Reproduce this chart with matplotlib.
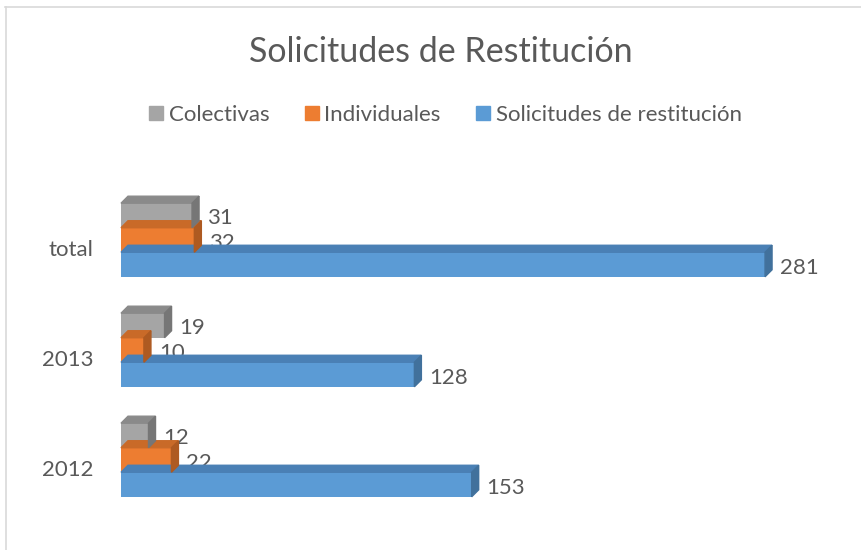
import matplotlib.pyplot as plt
import numpy as np
from matplotlib.patches import Polygon
from matplotlib.lines import Line2D
from matplotlib.transforms import ScaledTranslation

plt.rcParams['font.family'] = ['Lato', 'DejaVu Sans']

categories = ['2012', '2013', 'total']
colectivas = [12, 19, 31]
individuales = [22, 10, 32]
solicitudes = [153, 128, 281]

series_names = ['Colectivas', 'Individuales', 'Solicitudes de restitución']
front_colors = ['#A5A5A5', '#ED7D31', '#5B9BD5']
side_colors = ['#767676', '#AE5A21', '#41719C']
top_colors = ['#8A8A8A', '#C96A28', '#4A80B5']
text_color = '#595959'

W, H = 862, 550
fig = plt.figure(figsize=(W / 100, H / 100), dpi=100)

# axes placed so that x=0 sits at px 121 and groups are 110 px apart
ax = fig.add_axes([121 / W, 35 / H, 687.6 / W, 330 / H])
ax.set_xlim(0, 300)
ax.set_ylim(-0.5, 2.5)
for s in ax.spines.values():
    s.set_visible(False)
ax.set_xticks([])
y = np.arange(len(categories))
ax.set_yticks(y)
ax.set_yticklabels(categories, fontsize=16, color=text_color)
ax.tick_params(axis='y', length=0, pad=20)
for lab in ax.get_yticklabels():
    lab.set_transform(lab.get_transform() + ScaledTranslation(0, -6 / 72, fig.dpi_scale_trans))

bar_h = 0.223
dx, dy = 7, 7  # depth in pixels

# draw bottom series first so upper bars cover lower top faces
series = [(solicitudes, 2, -bar_h), (individuales, 1, 0.0), (colectivas, 0, bar_h)]
fig.canvas.draw()
for z, (vals, ci, off) in enumerate(series):
    for yi, v in zip(y, vals):
        yc = yi + off
        ax.barh(yc, v, height=bar_h, color=front_colors[ci], zorder=2 + z * 2)
        # corners in display coords
        x0, yb = ax.transData.transform((0, yc - bar_h / 2))
        x1, yt = ax.transData.transform((v, yc + bar_h / 2))
        top = Polygon([(x0, yt), (x1, yt), (x1 + dx, yt + dy), (x0 + dx, yt + dy)],
                      closed=True, transform=None, color=top_colors[ci], zorder=1 + z * 2)
        side = Polygon([(x1, yb), (x1 + dx, yb + dy), (x1 + dx, yt + dy), (x1, yt)],
                       closed=True, transform=None, color=side_colors[ci], zorder=1 + z * 2)
        fig.add_artist(top)
        fig.add_artist(side)
        ax.annotate(str(v), (v, yc), xytext=(15, -3), textcoords='offset pixels',
                    va='center', ha='left', fontsize=16, color=text_color, zorder=10)

fig.text(441 / W, 1 - 52 / H, 'Solicitudes de Restitución', ha='center', va='center',
         fontsize=24.5, color=text_color)

handles = [plt.Rectangle((0, 0), 1, 1, color=c) for c in front_colors]
fig.legend(handles, series_names, loc='center', bbox_to_anchor=(445.5 / W, 1 - 115 / H),
           ncol=3, frameon=False, fontsize=16, handlelength=0.63, handleheight=0.63,
           handletextpad=0.25, columnspacing=1.6, labelcolor=text_color)

# chart area border (top and left visible)
fig.add_artist(Line2D([5 / W, 1], [1 - 7 / H, 1 - 7 / H], color='#D9D9D9', lw=1.2))
fig.add_artist(Line2D([6 / W, 6 / W], [0, 1 - 7 / H], color='#D9D9D9', lw=1.2))

fig.savefig('out.png', dpi=100)
